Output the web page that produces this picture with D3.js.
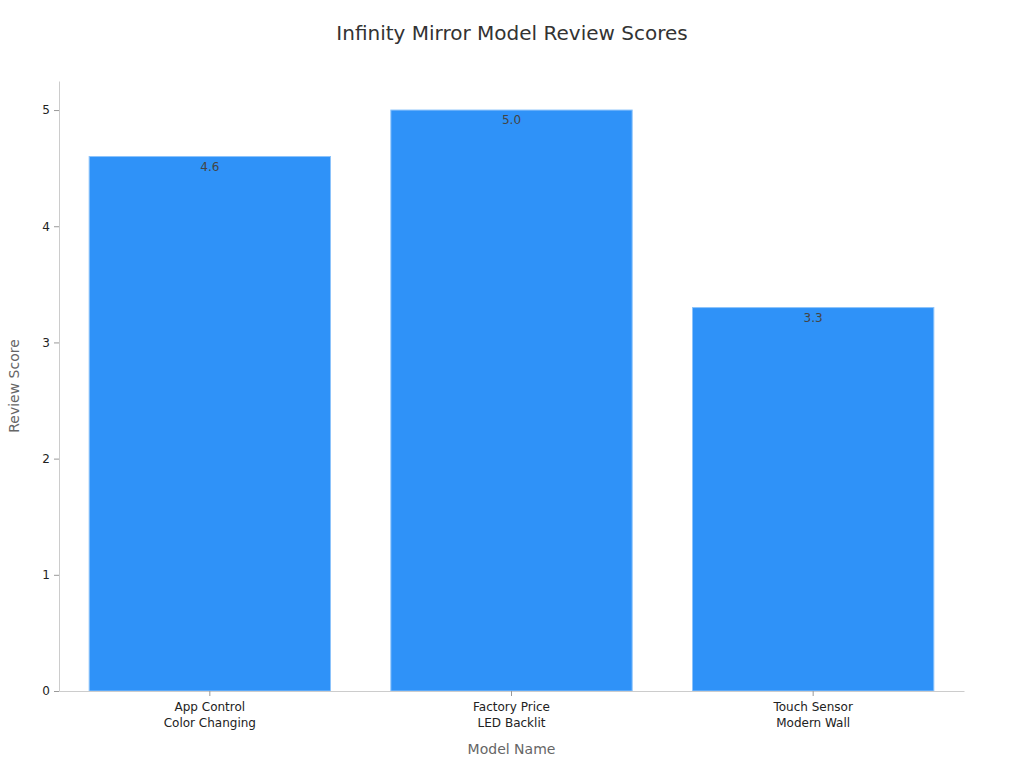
<!DOCTYPE html>
<html>
<head>
<meta charset="utf-8">
<script src="https://cdn.jsdelivr.net/npm/d3@7"></script>
<style>
  body { margin: 0; background: #fff; font-family: "DejaVu Sans", sans-serif; }
</style>
</head>
<body>
<div id="chart"></div>
<script>
var models = [["App Control", "Color Changing"], ["Factory Price", "LED Backlit"], ["Touch Sensor", "Modern Wall"]];
var scores = [4.6, 5.0, 3.3];
var yTicks = [0, 1, 2, 3, 4, 5];

var svgWidth = 1024;
var svgHeight = 768;
var margin = { top: 81, right: 60, bottom: 77, left: 59 };
var width = svgWidth - margin.left - margin.right;
var height = svgHeight - margin.top - margin.bottom;

var svg = d3.select("#chart")
  .append("svg")
  .attr("width", svgWidth)
  .attr("height", svgHeight);

var chartGroup = svg.append("g")
  .attr("transform", `translate(${margin.left}, ${margin.top})`);

var data = models.map((m, i) => ({ name: m, key: m.join(" "), score: scores[i] }));

var x = d3.scaleBand()
  .domain(data.map(d => d.key))
  .range([0, width])
  .paddingInner(0.2)
  .paddingOuter(0.1);

var y = d3.scaleLinear()
  .domain([0, 5.25])
  .range([height, 0]);

// bars
chartGroup.selectAll("rect")
  .data(data)
  .enter()
  .append("rect")
  .attr("x", d => x(d.key))
  .attr("y", d => y(d.score))
  .attr("width", x.bandwidth())
  .attr("height", d => height - y(d.score))
  .attr("fill", "#2f92f8")
  .attr("stroke", "#8cc3fb")
  .attr("stroke-width", 1);

// value labels
chartGroup.selectAll(".label")
  .data(data)
  .enter()
  .append("text")
  .attr("class", "label")
  .attr("x", d => x(d.key) + x.bandwidth() / 2)
  .attr("y", d => y(d.score) + 14)
  .attr("text-anchor", "middle")
  .attr("font-size", "12px")
  .attr("fill", "#444")
  .text(d => d.score.toFixed(1));

// y axis
var yAxis = chartGroup.append("g")
  .call(d3.axisLeft(y).tickValues(yTicks).tickFormat(d3.format("d")).tickSize(5).tickPadding(4).tickSizeOuter(0));
yAxis.select(".domain").attr("stroke", "#ccc");
yAxis.selectAll(".tick line").attr("stroke", "#999");
yAxis.selectAll("text").attr("font-size", "12px").attr("fill", "#222").attr("font-family", "DejaVu Sans");

// x axis
var xAxis = chartGroup.append("g")
  .attr("transform", `translate(0, ${height})`)
  .call(d3.axisBottom(x).tickSize(5).tickSizeOuter(0));
xAxis.select(".domain").attr("stroke", "#ccc");
xAxis.selectAll(".tick line").attr("stroke", "#999");
xAxis.selectAll(".tick text").remove();
xAxis.selectAll(".tick").each(function(k, i) {
  var t = d3.select(this).append("text")
    .attr("fill", "#222")
    .attr("font-size", "12px")
    .attr("font-family", "DejaVu Sans")
    .attr("text-anchor", "middle")
    .attr("y", 20);
  data[i].name.forEach((line, j) => {
    t.append("tspan").attr("x", 0).attr("dy", j === 0 ? 0 : "1.35em").text(line);
  });
});

// axis titles
chartGroup.append("text")
  .attr("x", width / 2)
  .attr("y", height + 63)
  .attr("text-anchor", "middle")
  .attr("font-size", "14px")
  .attr("fill", "#666")
  .text("Model Name");

chartGroup.append("text")
  .attr("transform", "rotate(-90)")
  .attr("x", -height / 2)
  .attr("y", -40)
  .attr("text-anchor", "middle")
  .attr("font-size", "14px")
  .attr("fill", "#666")
  .text("Review Score");

// title
svg.append("text")
  .attr("x", svgWidth / 2)
  .attr("y", 40)
  .attr("text-anchor", "middle")
  .attr("font-size", "20px")
  .attr("fill", "#333")
  .text("Infinity Mirror Model Review Scores");
</script>
</body>
</html>
